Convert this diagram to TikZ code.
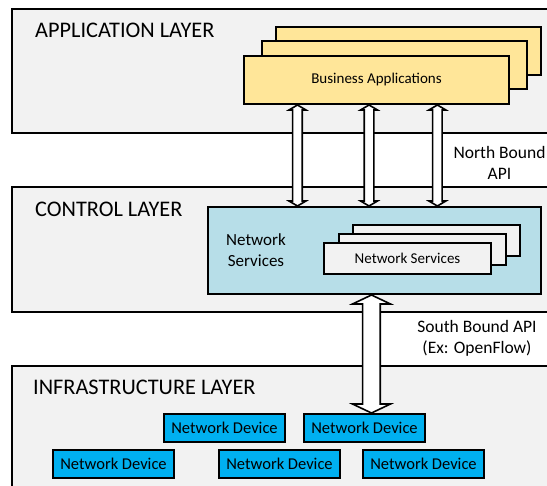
\documentclass[tikz,border=0pt]{standalone}
\usepackage{fontspec}
\setmainfont{Carlito}
\usetikzlibrary{calc}
\definecolor{layerfill}{HTML}{F2F2F2}
\definecolor{appfill}{HTML}{FFE699}
\definecolor{ctrlfill}{HTML}{B7DEE8}
\definecolor{devfill}{HTML}{00B0F0}
\tikzset{
  layerbox/.style={draw=black, line width=2pt, fill=layerfill, anchor=north west, inner sep=0pt},
  appbox/.style={draw=black, line width=2pt, fill=appfill, anchor=north west, minimum width=265pt, minimum height=48pt, inner sep=0pt, font=\fontsize{15}{18}\selectfont},
  ctrlbox/.style={draw=black, line width=2pt, fill=ctrlfill, anchor=north west, inner sep=0pt},
  svcbox/.style={draw=black, line width=2pt, fill=layerfill, anchor=north west, minimum width=167pt, minimum height=31pt, inner sep=0pt, font=\fontsize{15}{17}\selectfont},
  devbox/.style={draw=black, line width=2pt, fill=devfill, anchor=north west, minimum width=121pt, minimum height=28pt, inner sep=0pt, font=\fontsize{16.5}{19}\selectfont},
  titletext/.style={anchor=west, inner sep=0pt, font=\fontsize{22.3}{26}\selectfont},
  labeltext/.style={align=center, inner sep=0pt, font=\fontsize{17.5}{21.5}\selectfont},
  blockarrow/.style={draw=black, line width=1.6pt, fill=white, line join=miter}
}
% #1 top point, #2 bottom point, #3 half shaft, #4 half head, #5 head length
\newcommand\udblockarrow[5]{%
  \path[blockarrow] let \p1=(#1), \p2=(#2) in
    (\x1,\y1) -- (\x1+#4,\y1-#5) -- (\x1+#3,\y1-#5) -- (\x1+#3,\y2+#5) -- (\x1+#4,\y2+#5)
    -- (\x1,\y2) -- (\x1-#4,\y2+#5) -- (\x1-#3,\y2+#5) -- (\x1-#3,\y1-#5) -- (\x1-#4,\y1-#5) -- cycle;}
\begin{document}
\begin{tikzpicture}[x=1pt,y=-1pt]
\useasboundingbox (0,0) rectangle (547,486);
% layers
\node[layerbox, minimum width=560pt, minimum height=124pt] (app) at (11,8) {};
\node[layerbox, minimum width=560pt, minimum height=125pt] (ctl) at (11,186) {};
\node[layerbox, minimum width=560pt, minimum height=140pt] (inf) at (11,365) {};
\node[titletext] (appt) at (35,30.3) {APPLICATION LAYER};
\node[titletext] (ctlt) at (35,209.3) {CONTROL LAYER};
\node[titletext] (inft) at (33,387.3) {INFRASTRUCTURE LAYER};
% business applications stack
\node[appbox] (ba3) at (275,26) {};
\node[appbox] (ba2) at (261,40) {};
\node[appbox] (ba) at (243,55) {Business Applications};
% control box
\node[ctrlbox, minimum width=333pt, minimum height=87pt] (ns) at (207,206) {};
\node[labeltext, font=\fontsize{17}{21}\selectfont] (nsl) at (256,250.5) {Network\\Services};
\node[svcbox] (sv3) at (352,224) {};
\node[svcbox] (sv2) at (338,233) {};
\node[svcbox] (sv) at (323,242) {Network Services};
% devices
\node[devbox] (d1) at (163,413) {Network Device};
\node[devbox] (d2) at (303,413) {Network Device};
\node[devbox] (d3) at (52,449) {Network Device};
\node[devbox] (d4) at (218,449) {Network Device};
\node[devbox] (d5) at (362,449) {Network Device};
% labels
\node[labeltext] (nb) at (499.5,163) {North Bound\\API};
\node[labeltext] (sb) at (477,338.5) {South Bound API\\(Ex: OpenFlow)};
% north bound arrows
\coordinate (n1t) at ($(ba.south west)!0.204!(ba.south east)$);
\coordinate (n2t) at ($(ba.south west)!0.472!(ba.south east)$);
\coordinate (n3t) at ($(ba.south west)!0.728!(ba.south east)$);
\udblockarrow{n1t}{n1t |- ns.north}{4.8pt}{8.5pt}{5pt}
\udblockarrow{n2t}{n2t |- ns.north}{4.8pt}{8.5pt}{5pt}
\udblockarrow{n3t}{n3t |- ns.north}{4.8pt}{8.5pt}{5pt}
% south bound arrow
\coordinate (s1t) at ($(ns.south west)!0.491!(ns.south east)$);
\udblockarrow{s1t}{s1t |- d2.north}{8.8pt}{19pt}{9pt}
\end{tikzpicture}
\end{document}
